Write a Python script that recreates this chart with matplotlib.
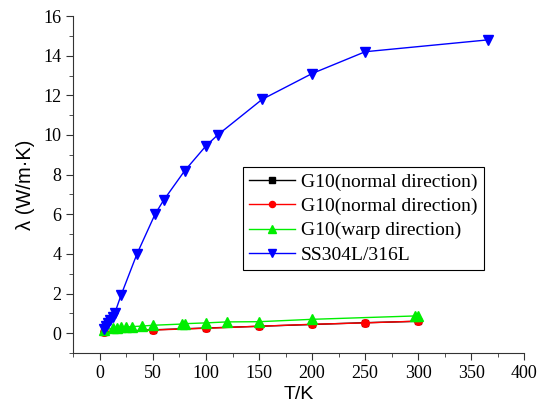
import matplotlib
matplotlib.use("Agg")
import matplotlib.pyplot as plt
from matplotlib.ticker import MultipleLocator

# G10 normal direction (two sources)
t_black = [4, 50, 100, 150, 200, 250, 300]
k_black = [0.05, 0.17, 0.26, 0.35, 0.44, 0.53, 0.60]
t_red = [4, 50, 100, 150, 200, 250, 300]
k_red = [0.05, 0.16, 0.25, 0.35, 0.45, 0.52, 0.61]

# G10 warp direction
t_green = [4, 12, 16, 20, 25, 30, 40, 50, 77, 80, 100, 120, 150, 200, 297, 300]
k_green = [0.15, 0.25, 0.28, 0.30, 0.31, 0.33, 0.36, 0.40, 0.46, 0.48, 0.52, 0.57, 0.58, 0.70, 0.87, 0.89]

# SS304L/316L
t_blue = [4, 6, 8, 10, 12, 14, 20, 35, 52, 60, 80, 100, 111, 153, 200, 250, 366]
k_blue = [0.2, 0.35, 0.5, 0.65, 0.82, 1.0, 1.92, 4.0, 6.0, 6.7, 8.2, 9.45, 10.0, 11.8, 13.1, 14.2, 14.8]

labels = ["G10(normal direction)", "G10(normal direction)",
          "G10(warp direction)", "SS304L/316L"]

fig = plt.figure(figsize=(5.37, 4.16), dpi=100)
ax = fig.add_axes([0.1365, 0.1514, 0.84, 0.81])

ax.plot(t_black, k_black, color="black", marker="s", markersize=5, lw=1, label=labels[0])
ax.plot(t_red, k_red, color="red", marker="o", markersize=5.5, lw=1, label=labels[1])
ax.plot(t_green, k_green, color="#00ee00", marker="^", markersize=6.5, lw=1, label=labels[2])
ax.plot(t_blue, k_blue, color="blue", marker="v", markersize=6.5, lw=1, label=labels[3])

ax.set_xlim(-25, 400)
ax.set_ylim(-1, 16)
ax.xaxis.set_major_locator(MultipleLocator(50))
ax.xaxis.set_minor_locator(MultipleLocator(25))
ax.yaxis.set_major_locator(MultipleLocator(2))
ax.yaxis.set_minor_locator(MultipleLocator(1))

for s in ["top", "right"]:
    ax.spines[s].set_visible(False)
for s in ["left", "bottom"]:
    ax.spines[s].set_color("#333333")
ax.tick_params(which="both", direction="out", colors="#333333", labelcolor="black")
ax.tick_params(which="major", length=5)
ax.tick_params(which="minor", length=3)
for lab in ax.get_xticklabels() + ax.get_yticklabels():
    lab.set_family("Liberation Serif")
    lab.set_fontsize(13)

ax.set_xlabel("T/K", family="Liberation Sans", fontsize=14, labelpad=3)
ax.set_ylabel("λ (W/m·K)", family="Liberation Sans", fontsize=14.5, labelpad=6)

leg = ax.legend(loc="upper left", bbox_to_anchor=(0.376, 0.552), borderaxespad=0,
                prop={"family": "Liberation Serif", "size": 14}, fancybox=False,
                edgecolor="black", framealpha=1, handlelength=2.4, markerscale=0.8,
                labelspacing=0.35, handletextpad=0.3, borderpad=0.3)
leg.get_frame().set_linewidth(0.8)

fig.savefig("out.png", dpi=100)
